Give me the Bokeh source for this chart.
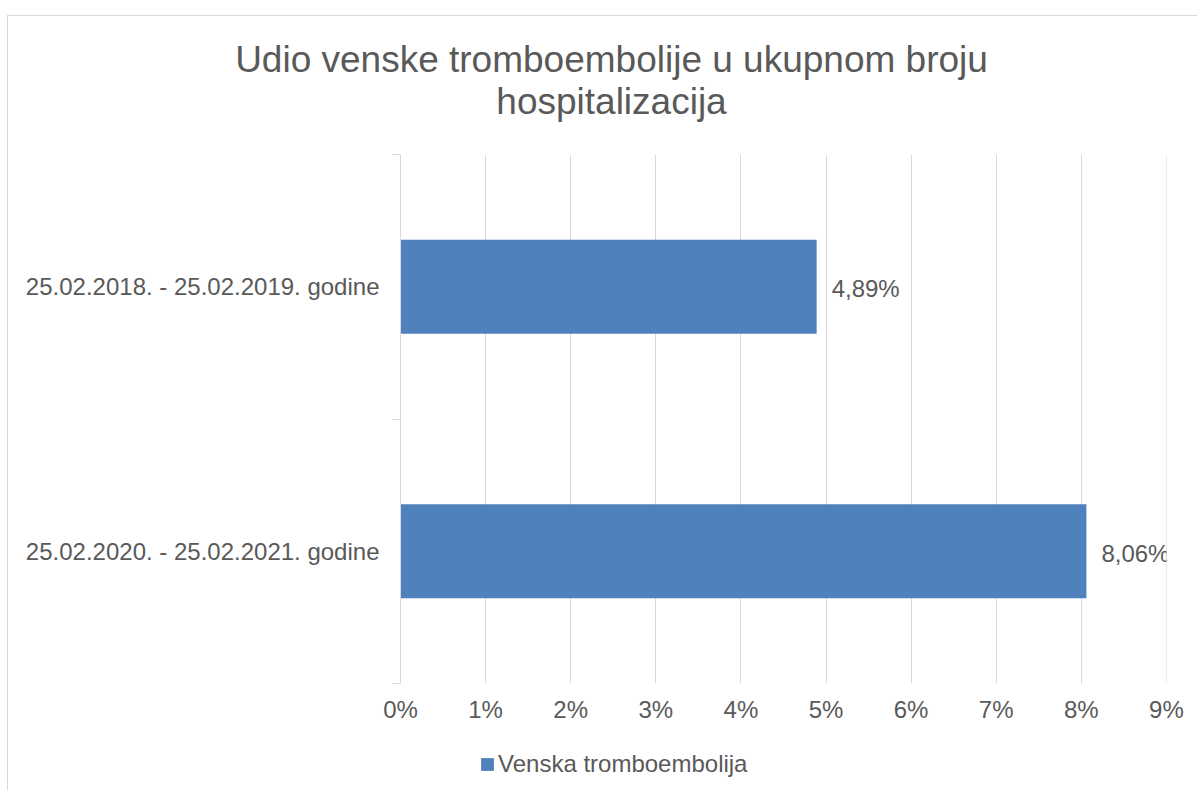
from bokeh.plotting import figure
from bokeh.layouts import column
from bokeh.models import Range1d, FixedTicker, ColumnDataSource, LabelSet, Label
from bokeh.core.properties import value
from bokeh.embed import file_html
from bokeh.resources import INLINE

# ---- data ----
title_lines = ["Udio venske tromboembolije u ukupnom broju", "hospitalizacija"]
categories = ["25.02.2018. - 25.02.2019. godine", "25.02.2020. - 25.02.2021. godine"]
values = [4.89, 8.06]
value_labels = ["4,89%", "8,06%"]
series_name = "Venska tromboembolija"
x_ticks = [0, 1, 2, 3, 4, 5, 6, 7, 8, 9]
x_tick_labels = ["0%", "1%", "2%", "3%", "4%", "5%", "6%", "7%", "8%", "9%"]

FONT = "Liberation Sans"
TXT = "#595959"
GRID = "#d9d9d9"
BAR = "#4f81bd"
W = 1190

n = len(categories)
ypos = [n - i - 0.5 for i in range(n)]  # first category on top

src = ColumnDataSource(dict(cat=categories, val=values, y=ypos, lab=value_labels))


def strip(height, top_border=False):
    f = figure(width=W, height=height, output_backend="svg", toolbar_location=None,
               x_range=Range1d(0, 1), y_range=Range1d(0, 1), x_axis_type=None, y_axis_type=None,
               min_border=0, min_border_left=0, min_border_right=0, min_border_top=0,
               min_border_bottom=0, title=None)
    f.frame_align = False
    f.outline_line_color = None
    f.xgrid.visible = False
    f.ygrid.visible = False
    st = {"border-left": "1px solid " + GRID}
    if top_border:
        st["border-top"] = "1px solid " + GRID
        f.margin = (15, 0, 0, 7)
    else:
        f.margin = (0, 0, 0, 7)
    f.styles = st
    return f


# ---- title strip ----
p0 = strip(139, top_border=True)
for txt, yb in zip(title_lines, [96, 54]):
    p0.add_layout(Label(x=603, y=yb, x_units="screen", y_units="screen", text=txt,
                        text_align="center", text_baseline="alphabetic",
                        text_font=FONT, text_font_size="37px", text_color=TXT))

# ---- main chart ----
p = figure(width=W, height=591, output_backend="svg", toolbar_location=None,
           x_range=Range1d(x_ticks[0], x_ticks[-1] + 0.001), y_range=Range1d(0, n),
           min_border_left=392, min_border_right=32, min_border_top=0, min_border_bottom=62,
           title=None)
p.frame_align = False
p.margin = (0, 0, 0, 7)
p.styles = {"border-left": "1px solid " + GRID}
p.outline_line_color = None
p.background_fill_color = "white"
p.border_fill_color = "white"

p.hbar(y="y", right="val", left=0, height=0.355, source=src, fill_color=BAR, line_color=None)

labels = LabelSet(x="val", y="y", text="lab", source=src, x_offset=15, y_offset=-2,
                  text_align="left", text_baseline="middle", text_font_size=value("24px"),
                  text_color=value(TXT), text_font=value(FONT))
p.add_layout(labels)

# x axis
xt = FixedTicker(ticks=x_ticks)
xa = p.xaxis[0]
xa.ticker = xt
xa.major_label_overrides = {t: l for t, l in zip(x_ticks, x_tick_labels)}
xa.axis_line_color = None
xa.major_tick_line_color = None
xa.minor_tick_line_color = None
xa.major_tick_out = 0
xa.major_tick_in = 0
xa.major_label_standoff = 12
xa.major_label_text_font = FONT
xa.major_label_text_font_size = "24px"
xa.major_label_text_color = TXT
p.xgrid.ticker = xt
p.xgrid.grid_line_color = GRID
p.ygrid.visible = False

# y axis: labels at category centres, ticks at category boundaries
yt = FixedTicker(ticks=ypos, minor_ticks=list(range(n + 1)))
ya = p.yaxis[0]
ya.ticker = yt
ya.major_label_overrides = {y: c for y, c in zip(ypos, categories)}
ya.axis_line_color = GRID
ya.major_tick_line_color = None
ya.major_tick_out = 0
ya.major_tick_in = 0
ya.minor_tick_line_color = GRID
ya.minor_tick_out = 8
ya.minor_tick_in = 0
ya.major_label_standoff = 13
ya.major_label_text_font = FONT
ya.major_label_text_font_size = "24px"
ya.major_label_text_color = TXT

# ---- legend strip ----
p2 = strip(45)
p2.x_range = Range1d(-2, -1)  # series bars lie outside this strip's view; only its legend shows
p2.y_range = Range1d(0, n)
p2.hbar(y="y", right="val", left=0, height=0.355, source=src, fill_color=BAR, line_color=None,
        legend_label=series_name)
lg = p2.legend[0]
lg.location = (471, 12)
lg.orientation = "horizontal"
lg.padding = 0
lg.margin = 0
lg.border_line_color = None
lg.background_fill_alpha = 0
lg.glyph_width = 16
lg.glyph_height = 16
lg.label_standoff = 3
lg.label_text_font = FONT
lg.label_text_font_size = "24px"
lg.label_text_color = TXT

layout = column(p0, p, p2, spacing=0)
open("out.html", "w").write(file_html(layout, INLINE))
